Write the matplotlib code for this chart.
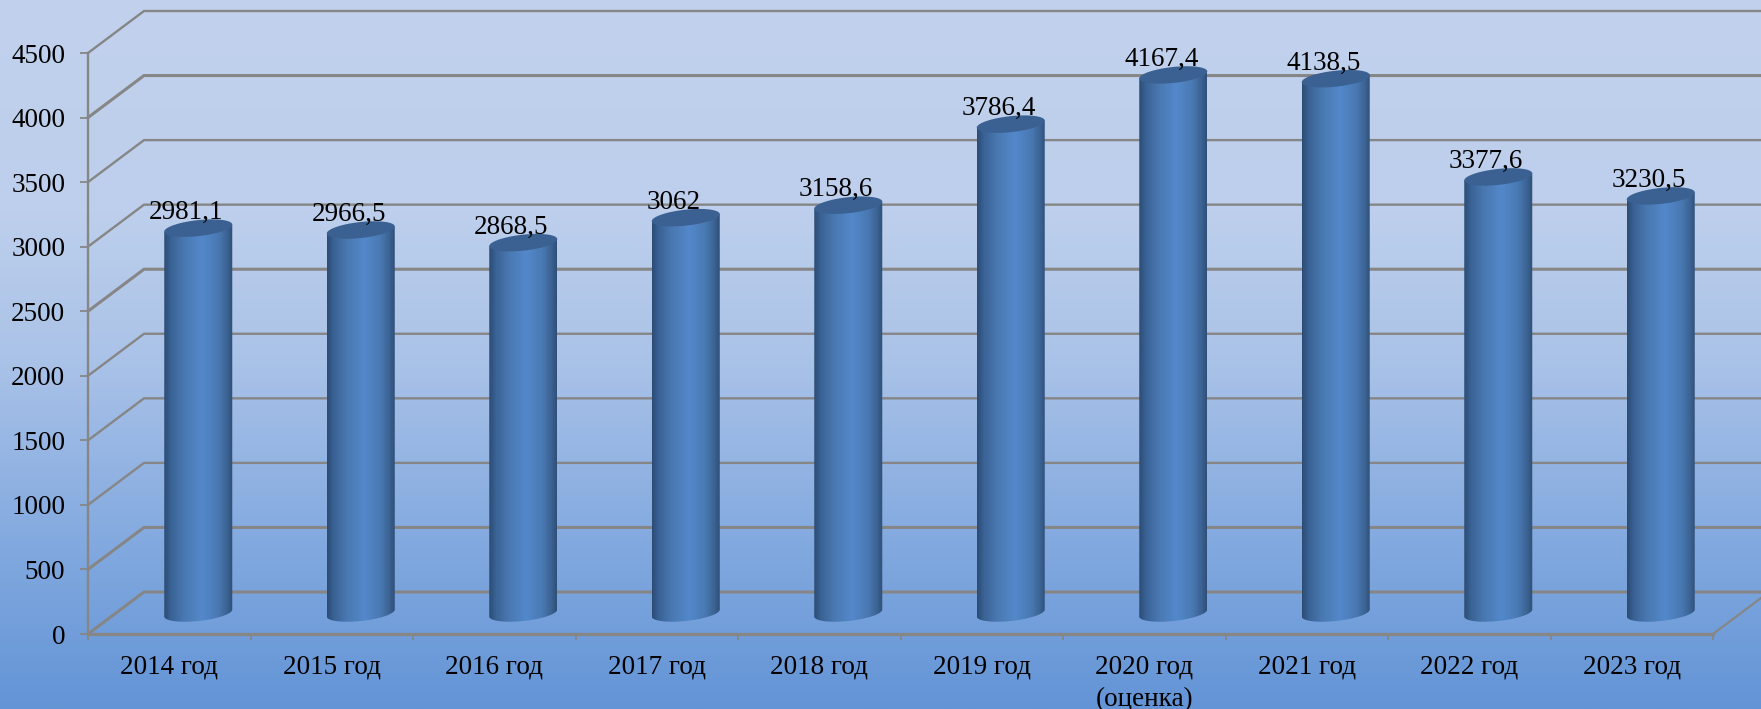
import numpy as np
import matplotlib
matplotlib.use('Agg')
import matplotlib.pyplot as plt
from matplotlib.colors import LinearSegmentedColormap
from matplotlib.patches import Polygon

plt.rcParams['font.family'] = ['Liberation Serif', 'DejaVu Serif']

categories = ['2014 год', '2015 год', '2016 год', '2017 год', '2018 год',
              '2019 год', '2020 год\n(оценка)', '2021 год', '2022 год', '2023 год']
values = [2981.1, 2966.5, 2868.5, 3062, 3158.6, 3786.4, 4167.4, 4138.5, 3377.6, 3230.5]
labels = ['2981,1', '2966,5', '2868,5', '3062', '3158,6', '3786,4', '4167,4', '4138,5', '3377,6', '3230,5']
y_ticks = list(range(0, 4501, 500))

W, H = 1761, 709
GRID = '#868686'

fig = plt.figure(figsize=(W / 100, H / 100), dpi=100)

# background gradient, vertical
bg = fig.add_axes([0, 0, 1, 1], zorder=0)
bg_cmap = LinearSegmentedColormap.from_list('bg', [
    (0.0, '#C1D1EE'), (0.30, '#BDCFEC'), (0.50, '#ABC3E8'),
    (0.75, '#85ABE0'), (1.0, '#6394D6')])
bg.imshow(np.linspace(0, 1, 256).reshape(-1, 1), cmap=bg_cmap, aspect='auto', extent=(0, 1, 0, 1))
bg.axis('off')

# plot box is the front plane of the 3d chart
left, right, top, bottom = 88, 1713, 53, 634
ax = fig.add_axes([left / W, 1 - bottom / H, (right - left) / W, (bottom - top) / H], zorder=1)
ax.patch.set_alpha(0)

px_x = 10 / (right - left)
px_y = 4500 / (bottom - top)
depth_x = 56 * px_x
depth_y = 42 * px_y

# walls
for v in y_ticks:
    lw = 2.2 if v in (0, 500, 2500, 4000) else 1.7
    ax.plot([0, depth_x, 10 + depth_x], [v, v + depth_y, v + depth_y], color=GRID, lw=lw,
            clip_on=False, zorder=1, solid_joinstyle='miter')
ax.plot([10, 10 + depth_x], [0, depth_y], color=GRID, lw=1.6, clip_on=False, zorder=1)

# cylinders
bar_cmap = LinearSegmentedColormap.from_list('bar', [
    (0.0, '#2C4C74'), (0.10, '#3A6396'), (0.30, '#4A79B2'), (0.55, '#5388CB'),
    (0.78, '#4A7AB4'), (0.92, '#3B6393'), (1.0, '#304F78')])
half = 34 * px_x
b = 8 * px_y
tilt = 3.5 * px_y
base = 21 * px_y
t = np.linspace(0, 2 * np.pi, 120)
lower = t[(t >= np.pi) & (t <= 2 * np.pi)]

for i, v in enumerate(values):
    cx = i + 0.5 + 29 * px_x
    y_top = base + v
    x_low = cx + half * np.cos(lower)
    y_low = base + b * np.sin(lower) + tilt * np.cos(lower)
    x_up = cx + half * np.cos(lower[::-1])
    y_up = y_top + tilt * np.cos(lower[::-1])
    body = Polygon(np.column_stack([np.r_[x_low, x_up], np.r_[y_low, y_up]]),
                   transform=ax.transData, fc='none', ec='none')
    ax.add_patch(body)
    im = ax.imshow(np.linspace(0, 1, 128).reshape(1, -1), cmap=bar_cmap, aspect='auto',
                   extent=(cx - half, cx + half, 0, y_top + 100), zorder=3)
    im.set_clip_path(body)
    cap = np.column_stack([cx + half * np.cos(t), y_top + b * np.sin(t) + tilt * np.cos(t)])
    ax.add_patch(Polygon(cap, fc='#3A6191', ec='none', zorder=4))
    ax.annotate(labels[i], (cx, y_top), xytext=(-12 * 0.72, 15.5 * 0.72), textcoords='offset points',
                ha='center', va='center', fontsize=19.5, color='black', zorder=5, annotation_clip=False)

ax.set_xlim(0, 10)
ax.set_ylim(0, 4500)

for s in ('top', 'right'):
    ax.spines[s].set_visible(False)
ax.spines['left'].set_color(GRID)
ax.spines['left'].set_linewidth(1.7)
ax.spines['bottom'].set_color(GRID)
ax.spines['bottom'].set_linewidth(2.4)
ax.spines['bottom'].set_zorder(2)

ax.set_yticks(y_ticks)
ax.tick_params(axis='y', length=5.8, width=1.3, color=GRID, pad=10.5, labelsize=19.5, labelcolor='black')
ax.set_xticks(range(11))
ax.set_xticklabels([])
ax.set_xticks(np.arange(10) + 0.5, minor=True)
ax.set_xticklabels(categories, minor=True, fontsize=19.5, color='black', linespacing=1.4)
ax.tick_params(axis='x', which='major', length=4.5, width=1.3, color=GRID)
ax.tick_params(axis='x', which='minor', length=0, pad=15)

fig.savefig('out.png', dpi=100)
